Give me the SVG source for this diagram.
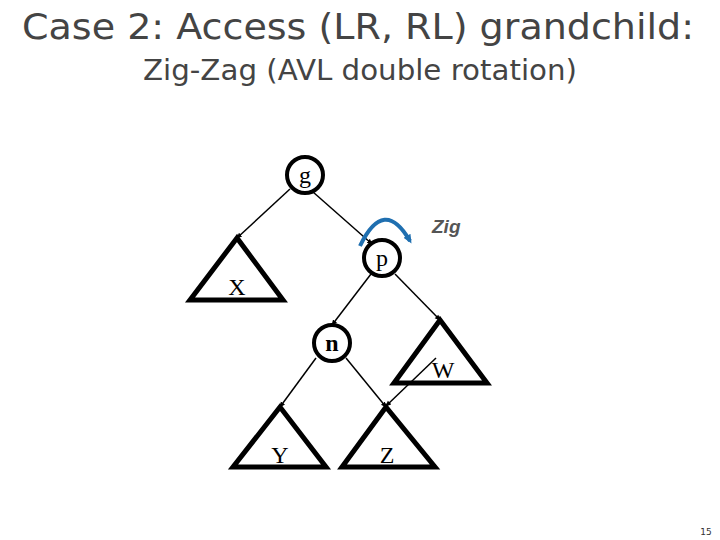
<svg xmlns="http://www.w3.org/2000/svg" width="720" height="540" viewBox="0 0 720 540">
<defs>
<style>
.e{stroke:#000;stroke-width:1.5;fill:none;marker-end:url(#bh)}
.t{fill:none;stroke:#000;stroke-width:5;stroke-linejoin:miter}
.c{fill:#fff;stroke:#000;stroke-width:4}
.l{font-family:"Liberation Serif",serif;font-size:24px;text-anchor:middle;fill:#000}
.h{font-family:"DejaVu Sans",sans-serif;fill:#444;text-anchor:middle}
</style>
<marker id="ah" markerWidth="10" markerHeight="10" refX="6" refY="5" orient="auto" markerUnits="userSpaceOnUse"><path d="M0,1 L9,5 L0,9 Z" fill="#1f6fb0"/></marker>
<marker id="bh" markerWidth="6" markerHeight="6" refX="5" refY="3" orient="auto" markerUnits="userSpaceOnUse"><path d="M0,0.5 L6,3 L0,5.5 Z" fill="#000"/></marker>
</defs>
<rect width="720" height="540" fill="#fff"/>
<text class="h" x="358" y="39" font-size="36" textLength="672" lengthAdjust="spacingAndGlyphs">Case 2: Access (LR, RL) grandchild:</text>
<text class="h" x="360" y="80" font-size="28" textLength="434" lengthAdjust="spacingAndGlyphs">Zig-Zag (AVL double rotation)</text>
<g id="connectors">
<line class="e" x1="290" y1="189" x2="237" y2="238"/>
<line class="e" x1="313" y1="192" x2="372" y2="244"/>
<line class="e" x1="371" y1="274" x2="332" y2="325"/>
<line class="e" x1="395" y1="274" x2="440" y2="320"/>
<line class="e" x1="316" y1="358" x2="280" y2="407"/>
<line class="e" x1="346" y1="358" x2="386" y2="407"/>
<line class="e" x1="436" y1="358" x2="386" y2="406"/>
<path d="M360,246 Q384,196 410,241" fill="none" stroke="#1f6fb0" stroke-width="4" marker-end="url(#ah)"/>
</g>
<g id="X"><polygon class="t" points="237,238 190,300 283,300"/><text class="l" x="237" y="295">X</text></g>
<g id="W"><polygon class="t" points="440,320 394,383 487,383"/><text class="l" x="443" y="378">W</text></g>
<g id="Y"><polygon class="t" points="280,407 233,467 326,467"/><text class="l" x="280" y="463">Y</text></g>
<g id="Z"><polygon class="t" points="386,407 342,467 435,467"/><text class="l" x="387" y="463">Z</text></g>
<g id="g"><circle class="c" cx="305" cy="175" r="18"/><text class="l" x="305" y="183">g</text></g>
<g id="p"><circle class="c" cx="382" cy="258" r="18"/><text class="l" x="382" y="266">p</text></g>
<g id="n"><circle class="c" cx="332" cy="343" r="18" stroke-width="6"/><text class="l" x="332" y="351" font-weight="bold">n</text></g>
<text x="432" y="233" font-family="Liberation Sans,sans-serif" font-size="19" font-weight="bold" font-style="italic" fill="#555">Zig</text>
<text x="706" y="535" font-family="DejaVu Sans,sans-serif" font-size="9" fill="#333" text-anchor="middle">15</text>
</svg>
